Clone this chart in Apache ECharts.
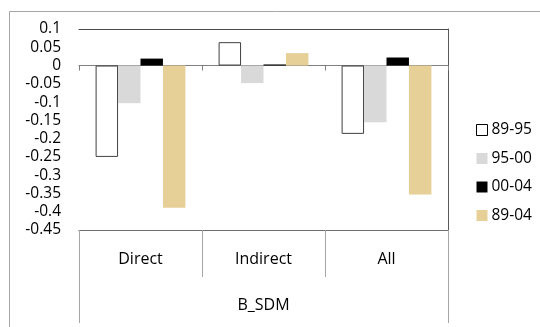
<!DOCTYPE html>
<html><head><meta charset="utf-8">
<script src="https://cdn.jsdelivr.net/npm/echarts@6/dist/echarts.min.js"></script>
<style>html,body{margin:0;padding:0;background:#fff}#c{width:540px;height:327px}</style>
</head><body><div id="c"></div>
<script>
const categories = ['Direct', 'Indirect', 'All'];
const groupLabel = ['B_SDM'];
const seriesNames = ['89-95', '95-00', '00-04', '89-04'];
const s8995 = [-0.25, 0.064, -0.187];
const s9500 = [-0.103, -0.048, -0.155];
const s0004 = [0.019, 0.003, 0.022];
const s8904 = [-0.389, 0.034, -0.353];
const yMin = -0.45, yMax = 0.1, yStep = 0.05;

const font = 'Open Sans';
const chart = echarts.init(document.getElementById('c'), null, {renderer: 'canvas'});
const styles = [
  {color: '#ffffff', borderColor: '#404040', borderWidth: 1},
  {color: '#d9d9d9'},
  {color: '#000000'},
  {color: '#e7cf98'}
];
const values = [s8995, s9500, s0004, s8904];
chart.setOption({
  animation: false,
  textStyle: {fontFamily: font},
  graphic: [{type: 'rect', shape: {x: 9.5, y: 11.5, width: 540, height: 330},
    style: {fill: 'none', stroke: '#a6a6a6', lineWidth: 1}, silent: true}],
  grid: {left: 79, top: 29, width: 369, height: 201, containLabel: false},
  legend: {
    orient: 'vertical', left: 471, top: 117, itemWidth: 11, itemHeight: 11, itemGap: 12.5,
    textStyle: {fontFamily: font, fontSize: 15.5, color: '#000', padding: [0, 0, 0, -1]},
    data: seriesNames.map((n, i) => ({name: n, icon: 'rect',
      itemStyle: i === 0 ? {color: '#fff', borderColor: '#000', borderWidth: 1} : {}}))
  },
  xAxis: [
    {type: 'category', data: categories, axisLine: {onZero: true, lineStyle: {color: '#7f7f7f', width: 1}},
     axisTick: {show: true, length: 5, lineStyle: {color: '#7f7f7f'}}, axisLabel: {show: false}},
    {type: 'category', data: categories, position: 'bottom', axisLine: {onZero: false, show: true, lineStyle: {color: '#6f6f6f'}},
     axisTick: {show: true, length: 47, lineStyle: {color: '#a6a6a6'}},
     axisLabel: {margin: 21, fontSize: 16, color: '#000', fontFamily: font}},
    {type: 'category', data: groupLabel, position: 'bottom', axisLine: {onZero: false, show: true, lineStyle: {color: '#6f6f6f'}},
     axisTick: {show: true, length: 93, lineStyle: {color: '#a6a6a6'}},
     axisLabel: {margin: 67, fontSize: 16, color: '#000', fontFamily: font}},
    {type: 'category', data: categories, position: 'top', axisLine: {onZero: false, show: true, lineStyle: {color: '#4a4a4a', width: 1}},
     axisTick: {show: false}, axisLabel: {show: false}}
  ],
  yAxis: [
    {type: 'value', min: yMin, max: yMax, interval: yStep, splitLine: {show: false},
     axisLine: {show: false}, axisTick: {show: false},
     axisLabel: {fontSize: 15.5, color: '#000', margin: 18, fontFamily: font,
       formatter: v => String(Math.round(v * 100) / 100)}},
    {type: 'value', min: yMin, max: yMax, interval: yStep, position: 'right', splitLine: {show: false},
     axisLine: {onZero: false, show: true, lineStyle: {color: '#5a5a5a', width: 1}}, axisTick: {show: false}, axisLabel: {show: false}}
  ],
  series: seriesNames.map((n, i) => ({
    name: n, type: 'bar', xAxisIndex: 0, yAxisIndex: 0, data: values[i],
    barGap: '0%', barCategoryGap: '27%', itemStyle: styles[i]
  }))
});
</script></body></html>
